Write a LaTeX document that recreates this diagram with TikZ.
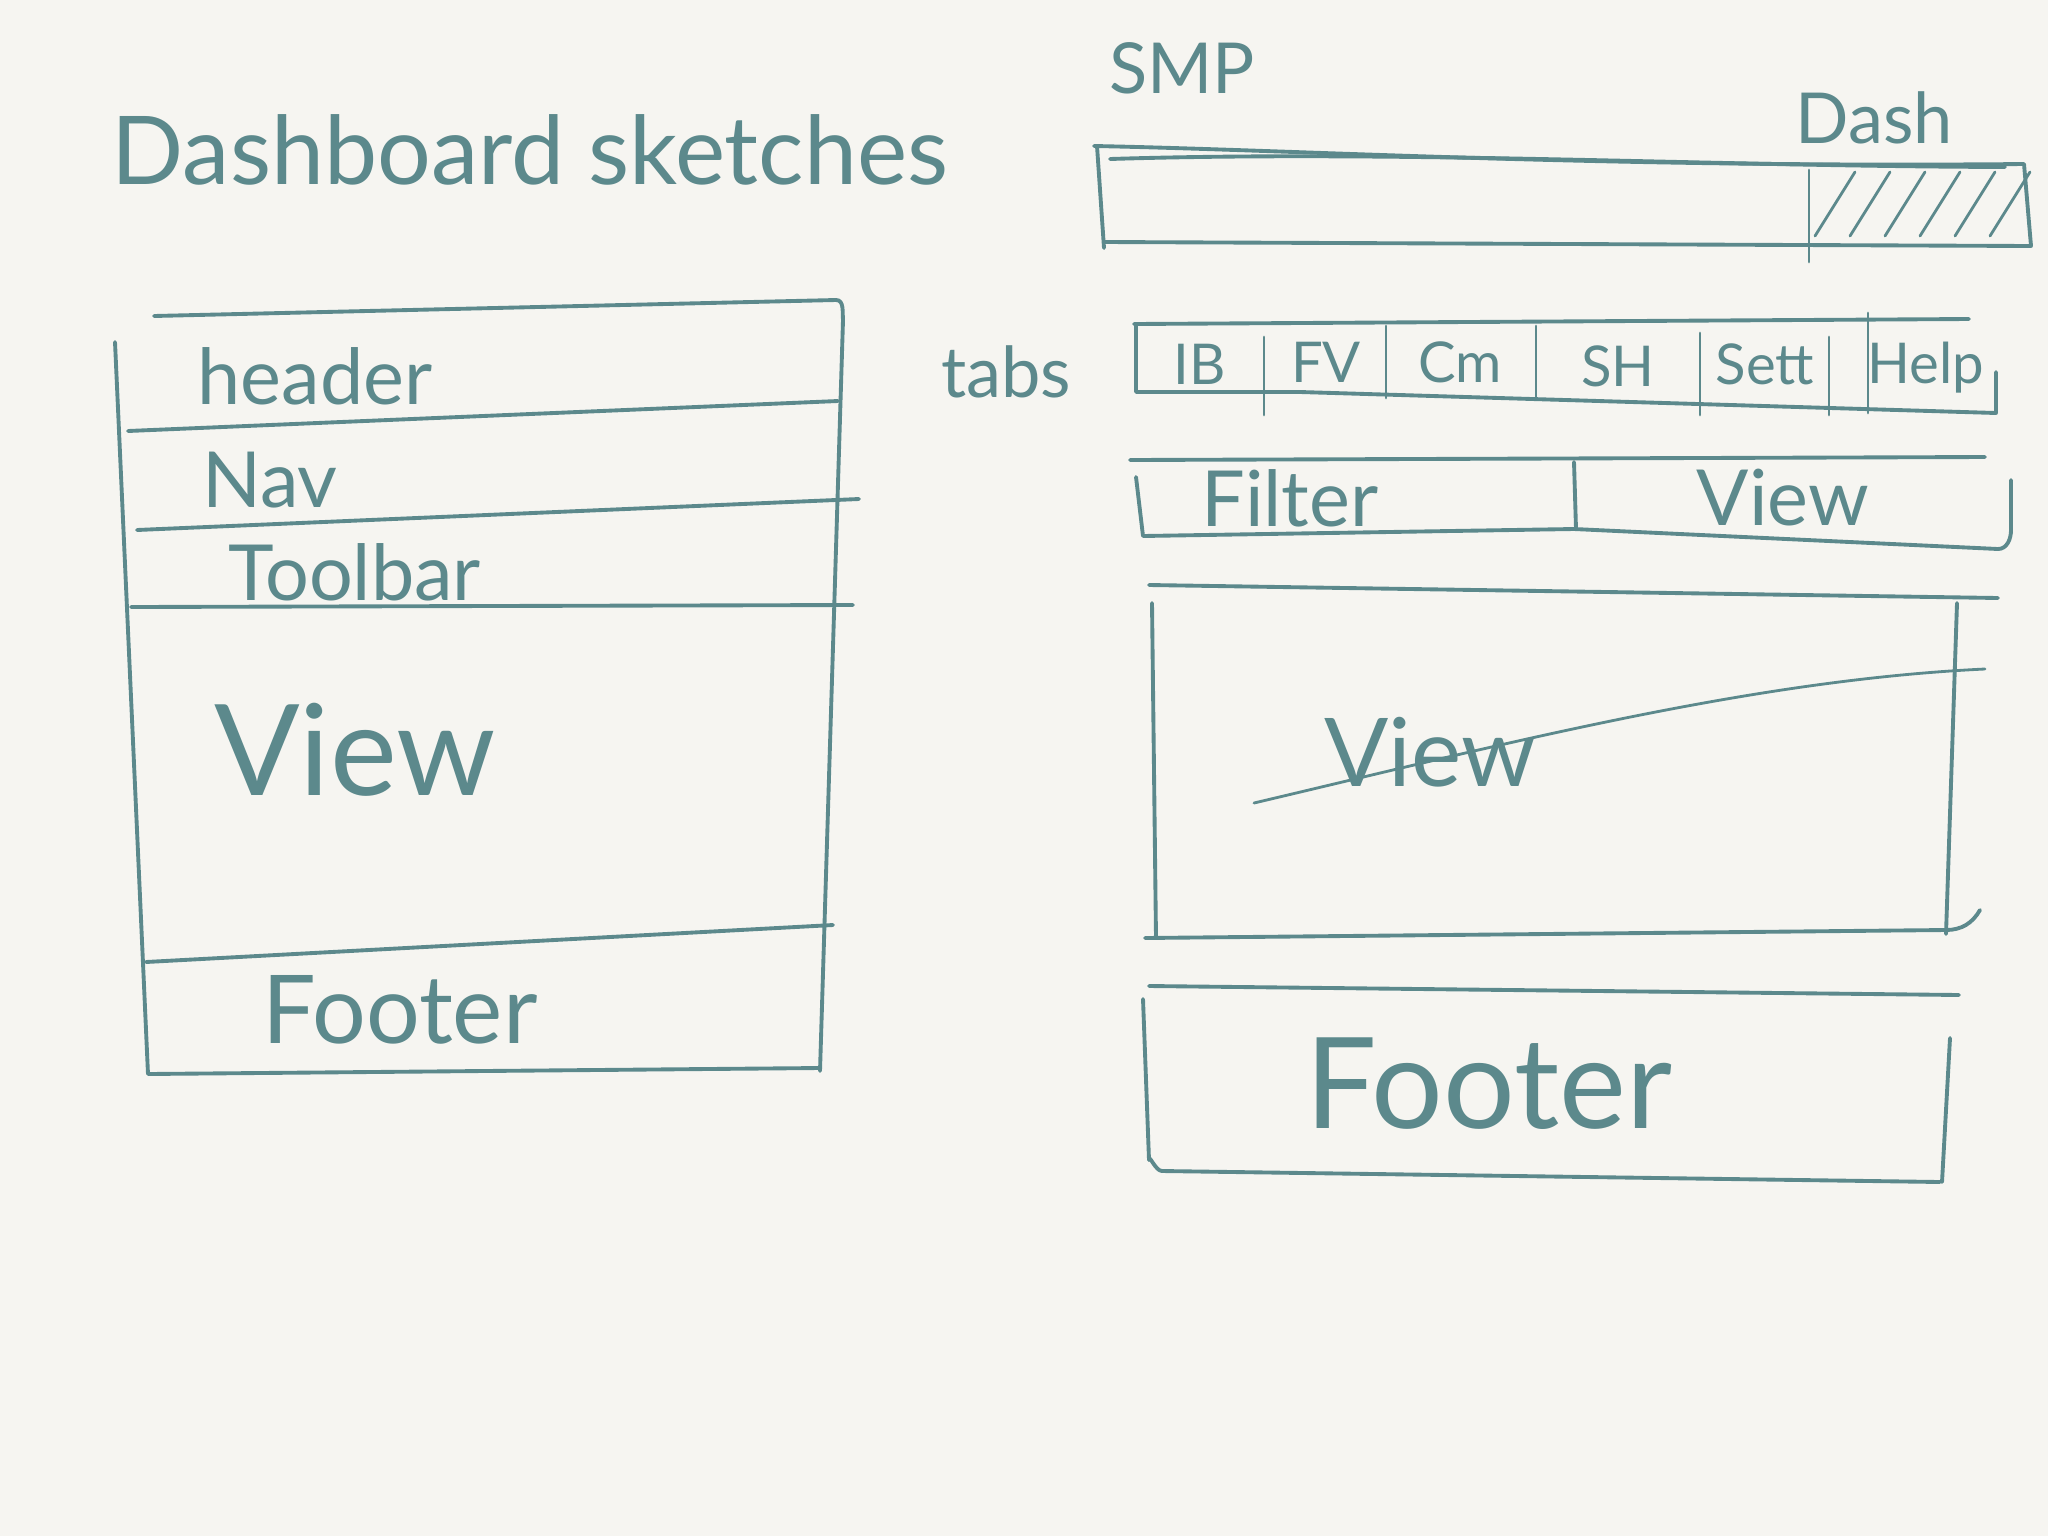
\documentclass[tikz,border=0pt]{standalone}
\usepackage{fontspec}
\setmainfont{Lato}
\usepackage{tikz}

\definecolor{ink}{RGB}{92,137,140}
\definecolor{paper}{RGB}{246,245,241}

\begin{document}
\begin{tikzpicture}[
  x=0.01cm, y=-0.01cm,
  pen/.style={draw=ink, line width=1.1pt, line cap=round, line join=round},
  thin pen/.style={pen, line width=0.8pt},
  hand/.style={text=ink, inner sep=0pt},
  huge hand/.style={hand, font=\fontsize{36}{40}\selectfont},
  big hand/.style={hand, font=\fontsize{27}{30}\selectfont},
  mid hand/.style={hand, font=\fontsize{22}{26}\selectfont},
  small hand/.style={hand, font=\fontsize{20}{24}\selectfont},
  tab hand/.style={hand, font=\fontsize{16}{19}\selectfont}
]
  \fill[paper] (0,0) rectangle (2048,1536);

  % titles
  \node[big hand] (title) at (530,150) {Dashboard sketches};
  \node[small hand] (smp) at (1182,68) {SMP};
  \node[small hand] (dash) at (1874,118) {Dash};

  % left wireframe
  \draw[pen] (154,316) -- (836,300) to[out=0,in=95] (843,320) -- (820,1071);
  \draw[pen] (115,342) -- (148,1074) -- (820,1068);
  \draw[pen] (128,431) -- (838,401);
  \draw[pen] (137,530) -- (859,499);
  \draw[pen] (131,607) -- (853,605);
  \draw[pen] (146,962) -- (833,925);

  \node[mid hand] (header) at (315,376) {header};
  \node[mid hand] (nav) at (270,480) {Nav};
  \node[mid hand] (toolbar) at (355,572) {Toolbar};
  \node[huge hand] (view) at (355,750) {View};
  \node[big hand] (footer) at (400,1010) {Footer};

  % top bar
  \draw[pen] (1094,146) .. controls (1300,150) and (1600,168) .. (2024,164) -- (2031,246) -- (1104,242);
  \draw[pen] (1110,159) .. controls (1400,150) and (1700,166) .. (2005,167);
  \draw[pen] (1097,146) -- (1104,248);
  \draw[thin pen] (1809,170) -- (1809,262);
  \foreach \x in {1815,1850,1885,1920,1955,1990}
    \draw[thin pen] (\x,236) -- (\x+40,172);

  % tabs
  \node[small hand] (tabs) at (1006,372) {tabs};
  \draw[pen] (1134,324) -- (1969,319);
  \draw[pen] (1136,324) -- (1136,392) -- (1300,392) -- (1996,413) -- (1996,372);
  \foreach \x/\ya/\yb in {1264/337/415, 1386/326/398, 1536/326/398, 1700/333/415, 1829/337/415, 1868/313/413}
    \draw[thin pen] (\x,\ya) -- (\x,\yb);
  \node[tab hand] (ib) at (1200,364) {IB};
  \node[tab hand] (fv) at (1326,362) {FV};
  \node[tab hand] (cm) at (1460,362) {Cm};
  \node[tab hand] (sh) at (1618,366) {SH};
  \node[tab hand] (sett) at (1765,364) {Sett};
  \node[tab hand] (help) at (1926,368) {Help};

  % filter / view bar
  \draw[pen] (1130,460) -- (1985,457);
  \draw[pen] (1136,477) -- (1143,536) -- (1574,529) -- (1998,549) to[out=0,in=-90] (2011,530) -- (2011,480);
  \draw[pen] (1574,462) -- (1576,529);
  \node[mid hand] (filter) at (1290,498) {Filter};
  \node[mid hand] (fview) at (1783,498) {View};

  % main view
  \draw[pen] (1149,585) -- (1998,598);
  \draw[pen] (1152,603) -- (1156,938);
  \draw[pen] (1145,938) -- (1946,930) to[out=0,in=-120] (1980,910);
  \draw[pen] (1957,603) -- (1946,934);
  \node[big hand] (mview) at (1430,752) {View};
  \draw[thin pen] (1254,803) .. controls (1500,745) and (1750,680) .. (1985,669);

  % footer
  \draw[pen] (1149,986) -- (1959,995);
  \draw[pen] (1143,999) -- (1149,1160) to[out=90,in=180] (1162,1171) -- (1940,1182);
  \draw[pen] (1950,1038) -- (1942,1182);
  \node[huge hand] (rfooter) at (1489,1084) {Footer};
\end{tikzpicture}
\end{document}
